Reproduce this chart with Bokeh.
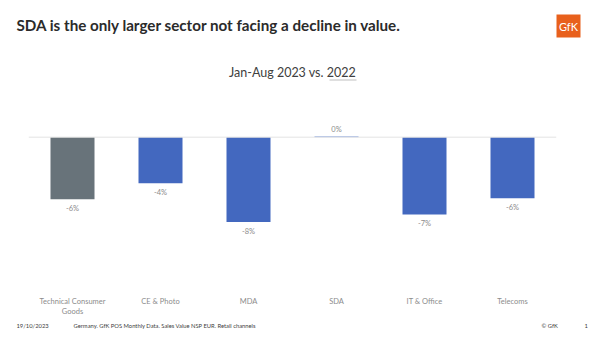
from bokeh.plotting import figure
from bokeh.layouts import column, row
from bokeh.models import ColumnDataSource, Range1d, Label, Span
from bokeh.core.properties import value
from bokeh.embed import file_html
from bokeh.resources import INLINE

categories = ["Technical Consumer\nGoods", "CE & Photo", "MDA", "SDA", "IT & Office", "Telecoms"]
change_pct = [-5.85, -4.35, -8.0, 0.1, -7.3, -5.75]
label_text = ["-6%", "-4%", "-8%", "0%", "-7%", "-6%"]
bar_colors = ["#68737a", "#4368bf", "#4368bf", "#8fa8e0", "#4368bf", "#4368bf"]

title_text = "SDA is the only larger sector not facing a decline in value."
subtitle_text = "Jan-Aug 2023 vs. 2022"
footer_date = "19/10/2023"
footer_source = "Germany.  GfK POS Monthly Data. Sales Value NSP EUR. Retail channels"
footer_copy = "\u00a9 GfK"
footer_page = "1"

FONT = "Lato"
W = 600
HEAD_H, MAIN_H, FOOT_H = 95, 225, 17


def blank(h):
    f = figure(width=W, height=h, x_range=Range1d(0, W), y_range=Range1d(h, 0),
               toolbar_location=None, output_backend="svg",
               min_border=0, x_axis_location=None, y_axis_location=None)
    f.outline_line_color = None
    f.xgrid.grid_line_color = None
    f.ygrid.grid_line_color = None
    f.background_fill_color = "white"
    f.border_fill_color = "white"
    return f


def lab(f, x, y, text, size, color, bold=False, align="left"):
    f.add_layout(Label(x=x, y=y, text=text, text_font=FONT, text_font_size=size,
                       text_color=color, text_align=align, text_baseline="middle",
                       text_font_style="bold" if bold else "normal"))


# ---- header ----
head = blank(HEAD_H)
lab(head, 16, 24, title_text, "15.2px", "#2b2b2b", bold=True)
lab(head, 292, 72, subtitle_text, "12.5px", "#404040", align="center")
head.segment(x0=[329], y0=[79.5], x1=[356], y1=[79.5], line_color="#bfbfbf", line_width=1)
head.quad(left=[556], right=[580], top=[14], bottom=[37], fill_color="#e8601c", line_color=None)
lab(head, 568, 26, "GfK", "11px", "white", align="center")

# ---- main chart ----
src = ColumnDataSource(dict(
    cat=categories, v=change_pct, lab=label_text, col=bar_colors,
    off=[9 if x < 0 else -7 for x in change_pct],
))

p = figure(width=W, height=MAIN_H, x_range=categories, y_range=Range1d(-14.46, 3.46),
           toolbar_location=None, output_backend="svg",
           min_border_left=28, min_border_right=44, min_border_top=5, min_border_bottom=30)
p.outline_line_color = None
p.background_fill_color = "white"
p.border_fill_color = "white"
p.xgrid.grid_line_color = None
p.ygrid.grid_line_color = None
p.yaxis.visible = False

p.add_layout(Span(location=0, dimension="width", line_color="#e3e3e3", line_width=1))

p.vbar(x="cat", top="v", bottom=0, width=0.5, source=src, fill_color="col", line_color=None)
p.text(x="cat", y="v", text="lab", y_offset="off", source=src, text_align="center",
       text_baseline="middle", text_font=value(FONT), text_font_size="7.5px", text_color="#8c8c8c")

ax = p.xaxis[0]
ax.axis_line_color = None
ax.major_tick_line_color = None
ax.minor_tick_line_color = None
ax.major_label_text_font = FONT
ax.major_label_text_font_size = "7.5px"
ax.major_label_text_color = "#8c8c8c"
ax.major_label_standoff = 0

# ---- footer ----
foot = blank(FOOT_H)
lab(foot, 16, 5, footer_date, "5.8px", "#404040")
lab(foot, 73, 5, footer_source, "5.8px", "#404040")
lab(foot, 541, 5, footer_copy, "5.8px", "#404040")
lab(foot, 584, 5, footer_page, "5.8px", "#404040")

layout = column(row(head), row(p), row(foot), spacing=0)
open("out.html", "w").write(file_html(layout, INLINE))
